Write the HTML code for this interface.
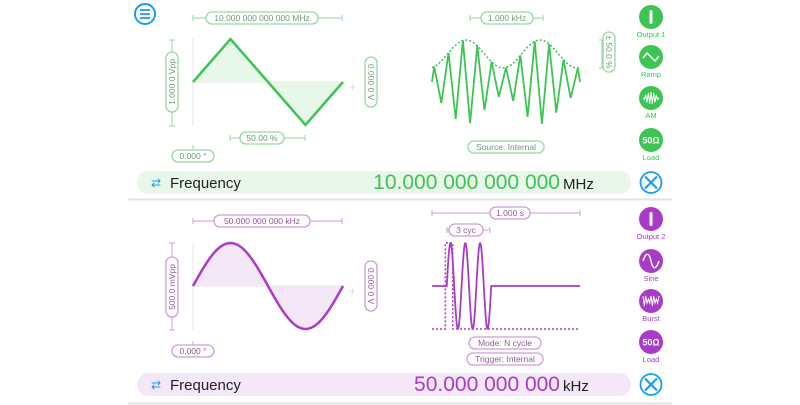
<!DOCTYPE html>
<html><head><meta charset="utf-8"><style>
html,body{margin:0;padding:0;background:#fff;}
svg{display:block;font-family:"Liberation Sans",sans-serif;}
</style></head><body>
<svg id="s" width="800" height="405" viewBox="0 0 800 405">
<line x1="128" y1="199.5" x2="672" y2="199.5" stroke="#e3e3e3" stroke-width="2"/>
<line x1="128" y1="403.5" x2="672" y2="403.5" stroke="#e3e3e3" stroke-width="2"/>
<g>
<circle cx="145" cy="14" r="10" fill="none" stroke="#1a9cf0" stroke-width="2"/>
<line x1="140" y1="10" x2="150" y2="10" stroke="#1a9cf0" stroke-width="1.8"/>
<line x1="140" y1="14" x2="150" y2="14" stroke="#1a9cf0" stroke-width="1.8"/>
<line x1="140" y1="18" x2="150" y2="18" stroke="#1a9cf0" stroke-width="1.8"/>
</g>
</svg>
<script>
// ---- waveform data ----
const rampPhase = [0, 0.25, 0.5, 0.75, 1];
const rampValue = [0, 1, 0, -1, 0];
const sineCycles = [1];
const amCarrierHalfCycles = [20];
const amEnvelopeCycles = [2];
const amDepth = [0.5];
const burstCycles = [3];
const burstStart = [0.1];
const burstCyclesWidth = [0.3];

const NS = 'http://www.w3.org/2000/svg';
const svg = document.getElementById('s');
function mk(tag, attrs, parent) {
  const e = document.createElementNS(NS, tag);
  for (const k in attrs) e.setAttribute(k, attrs[k]);
  (parent || svg).appendChild(e);
  return e;
}
const G = '#3cc553', GL = '#e7f7ea', GP = '#93d99f', GT = '#6b9c73';
const P = '#a93cc6', PL = '#f4e7f8', PP = '#cf9add', PT = '#8a5c96';

function pill(cx, cy, w, h, text, stroke, tcol, rot, name) {
  const g = mk('g', {transform: `translate(${cx},${cy}) rotate(${rot || 0})`});
  
  
  mk('rect', {x: -w/2, y: -h/2, width: w, height: h, rx: h/2, fill: '#fff', stroke: stroke, 'stroke-width': 1.3}, g);
  const t = mk('text', {x: 0, y: 3, 'text-anchor': 'middle', 'font-size': 8.5, fill: tcol}, g);
  t.textContent = text;
  return g;
}
function dim(x1, y1, x2, y2, col, name) {
  const g = mk('g', {});
  
  
  mk('line', {x1, y1, x2, y2, stroke: col, 'stroke-width': 1}, g);
  if (y1 === y2) {
    mk('line', {x1, y1: y1-3, x2: x1, y2: y1+3, stroke: col}, g);
    mk('line', {x1: x2, y1: y1-3, x2: x2, y2: y1+3, stroke: col}, g);
  } else {
    mk('line', {x1: x1-3, y1, x2: x1+3, y2: y1, stroke: col}, g);
    mk('line', {x1: x2-3, y1: y2, x2: x2+3, y2: y2, stroke: col}, g);
  }
}
function button(cx, cy, col, label, kind, name) {
  const g = mk('g', {});
  
  
  mk('circle', {cx, cy, r: 12, fill: col}, g);
  if (kind === 'out') mk('rect', {x: cx-1.5, y: cy-7, width: 3, height: 14, rx: 1.5, fill: '#fff'}, g);
  else if (kind === 'load') { const t = mk('text', {x: cx, y: cy+3.5, 'text-anchor': 'middle', 'font-size': 9, 'font-weight': 'bold', fill: '#fff'}, g); t.textContent = '50Ω'; }
  else if (kind === 'ramp') mk('polyline', {points: `${cx-8},${cy+1} ${cx-4},${cy-4} ${cx+4},${cy+4} ${cx+8},${cy-1}`, fill: 'none', stroke: '#fff', 'stroke-width': 1.5}, g);
  else if (kind === 'sine') mk('path', {d: `M${cx-8},${cy} C${cx-5},${cy-9} ${cx-2},${cy-9} ${cx},${cy} S${cx+5},${cy+9} ${cx+8},${cy}`, fill: 'none', stroke: '#fff', 'stroke-width': 1.5}, g);
  else {
    let pts = '';
    for (let i = 0; i <= 12; i++) { const a = kind === 'am' ? 6*Math.sin(Math.PI*i/12) : (i%6<3?5:2); pts += `${cx-8+i*16/12},${cy + (i%2?a:-a)} `; }
    mk('polyline', {points: pts, fill: 'none', stroke: '#fff', 'stroke-width': 1}, g);
  }
  const t = mk('text', {x: cx, y: cy+20, 'text-anchor': 'middle', 'font-size': 7.5, fill: col}, g);
  t.textContent = label;
}
function freqBar(y, fill, col, num, unit, name) {
  const g = mk('g', {});
  
  
  mk('rect', {x: 137, y, width: 494, height: 23, rx: 11.5, fill}, g);
  const ic = mk('text', {x: 151, y: y+16, 'font-size': 12, fill: '#1a9cf0'}, g); ic.textContent = '⇄';
  const t = mk('text', {x: 170, y: y+17, 'font-size': 15, fill: '#222'}, g); t.textContent = 'Frequency';
  const n = mk('text', {x: 560, y: y+18, 'text-anchor': 'end', 'font-size': 21, fill: col}, g); n.textContent = num;
  const u = mk('text', {x: 563, y: y+18, 'font-size': 15, fill: '#222'}, g); u.textContent = unit;
  const w = mk('g', {});
  
  
  mk('circle', {cx: 651, cy: y+11.5, r: 10.5, fill: 'none', stroke: '#1a9cf0', 'stroke-width': 1.8}, w);
  mk('line', {x1: 645, y1: y+5.5, x2: 657, y2: y+17.5, stroke: '#1a9cf0', 'stroke-width': 2.2}, w);
  mk('line', {x1: 657, y1: y+5.5, x2: 645, y2: y+17.5, stroke: '#1a9cf0', 'stroke-width': 2.2}, w);
}

// ===== Channel 1 =====
(function () {
  const x = t => 193 + t*150, y = v => 82 - v*43;
  mk('line', {x1: 193, y1: 38, x2: 193, y2: 126, stroke: '#e4e4e4'});
  mk('line', {x1: 193, y1: 82, x2: 345, y2: 82, stroke: '#e4e4e4'});
  const pts = rampPhase.map((p, i) => `${x(p)},${y(rampValue[i])}`).join(' ');
  const f = mk('polygon', {points: pts, fill: GL});
  
  
  const l = mk('polyline', {points: pts, fill: 'none', stroke: G, 'stroke-width': 2.5});
  
  
  mk('text', {x: 349, y: 91, 'font-size': 12, fill: '#ddd'}).textContent = '+';
  dim(193, 18, 342, 18, GP, 'frequency-dimension');
  pill(262, 18, 112, 12, '10.000 000 000 000 MHz', GP, GT, 0, 'frequency-pill');
  dim(172, 40, 172, 126, GP, 'amplitude-dimension');
  pill(172, 82, 60, 12, '1.000 0 Vpp', GP, GT, -90, 'amplitude-pill');
  pill(371, 82, 50, 12, '0.000 0 V', GP, GT, 90, 'offset-pill');
  dim(230, 138, 305, 138, GP, 'symmetry-dimension');
  pill(262, 138, 44, 12, '50.00 %', GP, GT, 0, 'symmetry-pill');
  mk('line', {x1: 193, y1: 145, x2: 193, y2: 149, stroke: GP});
  pill(193, 156, 42, 12, '0.000 °', GP, GT, 0, 'phase-pill');

  // AM
  const ax = t => 432 + t*148, ay = v => 82 - v;
  const env = t => 28 + 14*amDepth[0]*2*Math.cos(2*Math.PI*(amEnvelopeCycles[0]*t - 0.46));
  mk('line', {x1: 432, y1: 82, x2: 580, y2: 82, stroke: '#eef7ef'});
  let e = '';
  for (let i = 0; i <= 60; i++) { const t = i/60; e += `${ax(t)},${ay(env(t))} `; }
  const ev = mk('polyline', {points: e, fill: 'none', stroke: G, 'stroke-width': 1.5, 'stroke-dasharray': '2 2'});
  
  
  let c = `${ax(0)},82 `;
  const N = amCarrierHalfCycles[0];
  for (let k = 0; k <= N; k++) { const t = (k+0.3)/ (N+0.6); c += `${ax(t)},${ay((k%2?-1:1)*env(t))} `; }
  c += `${ax(1)},82`;
  const cv = mk('polyline', {points: c, fill: 'none', stroke: G, 'stroke-width': 1.8});
  
  
  dim(470, 18, 543, 18, GP, 'modulation-frequency-dimension');
  pill(507, 18, 52, 12, '1.000 kHz', GP, GT, 0, 'modulation-frequency-pill');
  dim(602, 40, 602, 68, GP, 'depth-dimension');
  pill(609, 52, 40, 12, '± 50.0 %', GP, GT, 90, 'depth-pill');
  pill(506, 147, 76, 12, 'Source: Internal', GP, GT, 0, 'source-pill');

  button(651, 17, G, 'Output 1', 'out', 'output-1-button');
  button(651, 57, G, 'Ramp', 'ramp', 'waveform-ramp-button');
  button(651, 98, G, 'AM', 'am', 'modulation-am-button');
  button(651, 140, G, 'Load', 'load', 'load-button');
  freqBar(171, '#e8f7ea', G, '10.000 000 000 000', 'MHz', 'frequency-bar-1');
})();

// ===== Channel 2 =====
(function () {
  const x = t => 193 + t*150, y = v => 286 - v*43;
  mk('line', {x1: 193, y1: 243, x2: 193, y2: 330, stroke: '#e4e4e4'});
  mk('line', {x1: 193, y1: 286, x2: 345, y2: 286, stroke: '#e4e4e4'});
  let pts = '';
  for (let i = 0; i <= 80; i++) { const t = i/80; pts += `${x(t)},${y(Math.sin(2*Math.PI*sineCycles[0]*t))} `; }
  const f = mk('polygon', {points: pts, fill: PL});
  
  
  const l = mk('polyline', {points: pts, fill: 'none', stroke: P, 'stroke-width': 2.5});
  
  
  mk('text', {x: 349, y: 295, 'font-size': 12, fill: '#ddd'}).textContent = '+';
  dim(193, 221, 342, 221, PP, 'frequency-dimension-2');
  pill(262, 221, 96, 12, '50.000 000 000 kHz', PP, PT, 0, 'frequency-pill-2');
  dim(172, 243, 172, 330, PP, 'amplitude-dimension-2');
  pill(172, 287, 60, 12, '500.0 mVpp', PP, PT, -90, 'amplitude-pill-2');
  pill(371, 286, 50, 12, '0.000 0 V', PP, PT, 90, 'offset-pill-2');
  mk('line', {x1: 193, y1: 341, x2: 193, y2: 345, stroke: PP});
  pill(193, 351, 42, 12, '0.000 °', PP, PT, 0, 'phase-pill-2');

  // Burst
  const bx = t => 432 + t*148, by = v => 286 - v*43;
  const s = burstStart[0], w = burstCyclesWidth[0], n = burstCycles[0];
  const trig = mk('polyline', {points: `${bx(0)},${by(-1)} ${bx(s-0.01)},${by(-1)} ${bx(s-0.01)},${by(1)} ${bx(s+0.04)},${by(1)} ${bx(s+0.04)},${by(-1)} ${bx(1)},${by(-1)}`, fill: 'none', stroke: P, 'stroke-width': 1.5, 'stroke-dasharray': '2 2'});
  
  
  let b = `${bx(0)},${by(0)} ${bx(s)},${by(0)} `;
  for (let i = 0; i <= 90; i++) { const t = i/90; b += `${bx(s + t*w)},${by(Math.sin(2*Math.PI*n*t))} `; }
  b += `${bx(1)},${by(0)}`;
  const bl = mk('polyline', {points: b, fill: 'none', stroke: P, 'stroke-width': 1.8});
  
  
  dim(432, 213, 580, 213, PP, 'period-dimension');
  pill(510, 213, 40, 12, '1.000 s', PP, PT, 0, 'period-pill');
  dim(447, 230, 490, 230, PP, 'cycles-dimension');
  pill(466, 230, 34, 12, '3 cyc', PP, PT, 0, 'cycles-pill');
  pill(505, 343, 72, 12, 'Mode: N cycle', PP, PT, 0, 'mode-pill');
  pill(505, 359, 76, 12, 'Trigger: Internal', PP, PT, 0, 'trigger-pill');

  button(651, 219, P, 'Output 2', 'out', 'output-2-button');
  button(651, 261, P, 'Sine', 'sine', 'waveform-sine-button');
  button(651, 301, P, 'Burst', 'burst', 'modulation-burst-button');
  button(651, 342, P, 'Load', 'load', 'load-button-2');
  freqBar(373, '#f4e7f8', P, '50.000 000 000', 'kHz', 'frequency-bar-2');
})();
</script>
</body></html>
